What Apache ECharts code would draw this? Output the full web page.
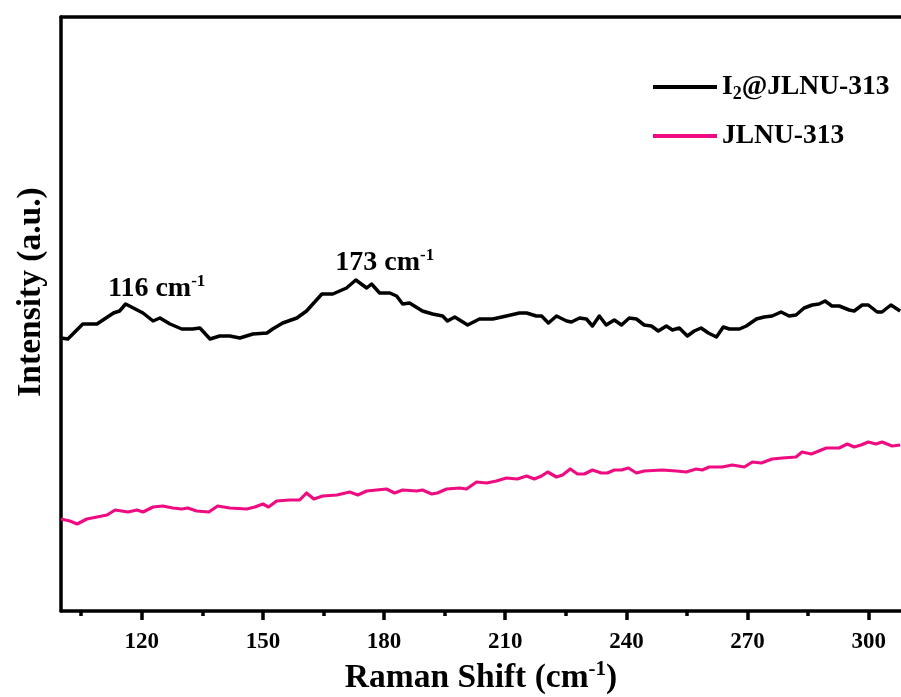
<!DOCTYPE html>
<html>
<head>
<meta charset="utf-8">
<title>Raman spectra</title>
<script src="https://cdn.jsdelivr.net/npm/echarts@6/dist/echarts.min.js"></script>
<style>
  html, body { margin: 0; padding: 0; background: #ffffff; }
  #chart { width: 901px; height: 697px; }
</style>
</head>
<body>
<div id="chart"></div>
<script>
// Raman shift (cm-1) and intensity (a.u.) of iodine-loaded JLNU-313
const shiftLoaded = [100, 101.7, 105.4, 108.9, 113, 114.5, 116, 120.3, 122.8, 124.5, 127.0, 129.9, 132.6, 134.4,
  136.9, 139.3, 141.8, 144.3, 147.5, 151.0, 152.4, 154.9, 158.4, 160.8, 164.6, 167.3, 170.7, 173, 175.7, 176.9,
  178.9, 181.4, 183.1, 184.6, 186.3, 189.5, 192.0, 194.5, 195.7, 197.5, 200.7, 203.6, 206.9, 210.3, 213.5, 215.3,
  217.7, 219.0, 220.7, 222.7, 225.2, 226.4, 228.4, 230.1, 231.6, 233.3, 235.0, 237.0, 238.8, 240.7, 242.5, 244.4,
  246.2, 247.9, 249.9, 251.4, 253.1, 255.1, 256.8, 258.5, 260.3, 262.3, 264.0, 265.5, 268.0, 269.7, 272.2, 274.1,
  276.1, 278.3, 280.3, 282.0, 284.0, 286.0, 287.7, 289.2, 290.9, 292.7, 295.2, 296.4, 298.4, 299.9, 302.1, 303.3,
  305.5, 307.8];
const intensityLoaded = [273, 272, 287, 287, 298, 300, 307, 298, 290, 293, 287, 282, 282, 283,
  272, 275, 275, 273, 277, 278, 282, 288, 293, 300, 317, 317, 323, 331, 323, 327,
  318, 318, 315, 307, 308, 300, 297, 295, 290, 294, 286, 292, 292, 295, 298, 298,
  295, 295, 288, 295, 290, 289, 293, 292, 285, 295, 286, 291, 286, 293, 292, 286,
  285, 280, 285, 281, 283, 275, 280, 283, 278, 274, 284, 282, 282, 285, 292, 294,
  295, 299, 295, 296, 303, 306, 307, 310, 305, 305, 301, 300, 306, 306, 299, 299,
  306, 300];

// Raman shift (cm-1) and intensity (a.u.) of pristine JLNU-313
const shiftPristine = [100, 102.2, 104.0, 106.4, 108.9, 111.4, 113.4, 116.6, 118.8, 120.3, 122.8, 125.2, 127.7,
  129.9, 131.4, 133.6, 136.6, 138.8, 141.8, 146.0, 148.0, 150.0, 151.4, 153.4, 156.6, 159.1, 160.8, 162.6, 164.8,
  168.3, 171.5, 173.5, 175.7, 180.6, 182.6, 184.6, 188.1, 189.5, 191.8, 193.2, 195.5, 198.7, 200.4, 202.9, 205.4,
  207.8, 210.3, 213.0, 215.3, 217.2, 219.0, 220.5, 222.7, 224.2, 226.1, 227.9, 229.6, 231.6, 233.8, 235.3, 237.0,
  238.8, 240.5, 242.5, 244.4, 248.9, 252.4, 254.8, 257.3, 258.8, 260.5, 263.7, 266.2, 269.2, 271.2, 273.4, 276.1,
  278.6, 282.0, 283.5, 285.8, 289.5, 292.7, 294.7, 296.4, 298.1, 299.9, 301.8, 303.3, 305.8, 307.8];
const intensityPristine = [92, 90, 87, 92, 94, 96, 101, 99, 101, 99, 104, 105, 103,
  102, 103, 100, 99, 105, 103, 102, 104, 107, 104, 110, 111, 111, 118, 112, 115,
  116, 119, 116, 120, 122, 118, 121, 120, 121, 117, 118, 122, 123, 122, 129, 128,
  130, 133, 132, 135, 132, 135, 139, 134, 136, 142, 137, 137, 141, 138, 138, 141,
  141, 143, 138, 140, 141, 140, 139, 142, 141, 144, 144, 146, 144, 149, 148, 152,
  153, 154, 159, 157, 163, 163, 167, 164, 166, 169, 167, 169, 165, 166];

// Labelled peak positions (cm-1)
const peakShifts = [116, 173];

// Axis ticks
const majorTicks = [120, 150, 180, 210, 240, 270, 300];
const minorTicks = [105, 135, 165, 195, 225, 255, 285];

const seriesNames = ['I2@JLNU-313', 'JLNU-313'];

const FONT = "'Liberation Serif', 'Times New Roman', serif";

function pairs(xs, ys) {
  return xs.map((x, i) => [x, ys[i]]);
}

const loadedData = pairs(shiftLoaded, intensityLoaded);
const peakMarks = peakShifts.map((s, i) => {
  const v = intensityLoaded[shiftLoaded.indexOf(s)];
  const offsets = [[31, -15], [29, -17]];
  return {
    coord: [s, v],
    label: { offset: offsets[i], formatter: '{n|' + s + ' cm}{sup|-1}' }
  };
});

const chart = echarts.init(document.getElementById('chart'), null, { renderer: 'canvas' });

const axisLineStyle = { color: '#000', width: 3.5 };

chart.setOption({
  backgroundColor: '#ffffff',
  animation: false,
  grid: { left: 61, right: 0, top: 17, bottom: 86, containLabel: false, outerBoundsMode: 'none' },
  legend: {
    orient: 'vertical',
    left: 648,
    top: 68,
    itemWidth: 64,
    itemHeight: 4,
    itemGap: 19,
    icon: 'rect',
    data: seriesNames,
    formatter: function (name) {
      if (name === seriesNames[0]) {
        return '{n|I}{sub|2}{n|@JLNU-313}';
      }
      return '{n|' + name + '}';
    },
    textStyle: {
      rich: {
        n: { fontFamily: FONT, fontWeight: 'bold', fontSize: 27.5, color: '#000', lineHeight: 32 },
        sub: { fontFamily: FONT, fontWeight: 'bold', fontSize: 18, color: '#000', lineHeight: 32, verticalAlign: 'bottom' }
      }
    }
  },
  xAxis: [
    {
      type: 'value',
      min: 100,
      max: 308,
      position: 'bottom',
      name: '{t|Raman Shift (cm}{sup|-1}{t|)}',
      nameLocation: 'middle',
      nameGap: 47,
      nameTextStyle: {
        rich: {
          t: { fontFamily: FONT, fontWeight: 'bold', fontSize: 33.5, color: '#000', lineHeight: 38 },
          sup: { fontFamily: FONT, fontWeight: 'bold', fontSize: 21, color: '#000', lineHeight: 38, verticalAlign: 'top' }
        }
      },
      axisLine: { show: true, onZero: false, lineStyle: axisLineStyle },
      axisTick: { show: true, inside: false, length: 9, lineStyle: { color: '#000', width: 3.5 }, customValues: majorTicks },
      axisLabel: {
        show: true, margin: 20, customValues: majorTicks,
        fontFamily: FONT, fontWeight: 'bold', fontSize: 23, color: '#000'
      },
      splitLine: { show: false }
    },
    {
      // short minor ticks between the labelled ones
      type: 'value',
      min: 100,
      max: 308,
      position: 'bottom',
      axisLine: { show: false },
      axisTick: { show: true, inside: false, length: 5, lineStyle: { color: '#000', width: 3.5 }, customValues: minorTicks },
      axisLabel: { show: false },
      splitLine: { show: false }
    },
    {
      // frame line along the top edge
      type: 'value',
      min: 100,
      max: 308,
      position: 'top',
      axisLine: { show: true, onZero: false, lineStyle: axisLineStyle },
      axisTick: { show: false },
      axisLabel: { show: false },
      splitLine: { show: false }
    }
  ],
  yAxis: {
    type: 'value',
    min: 0,
    max: 594,
    axisLine: { show: true, onZero: false, lineStyle: axisLineStyle },
    axisTick: { show: false },
    axisLabel: { show: false },
    splitLine: { show: false }
  },
  graphic: [
    {
      type: 'text',
      x: 31,
      y: 292,
      rotation: Math.PI / 2,
      style: {
        text: 'Intensity (a.u.)',
        font: 'bold 33.5px ' + FONT,
        fill: '#000',
        align: 'center',
        verticalAlign: 'middle'
      },
      silent: true
    }
  ],
  series: [
    {
      name: seriesNames[0],
      type: 'line',
      data: loadedData,
      showSymbol: false,
      symbol: 'none',
      color: '#000000',
      lineStyle: { color: '#000000', width: 3.5, join: 'round' },
      markPoint: {
        silent: true,
        symbol: 'circle',
        symbolSize: 1,
        itemStyle: { color: 'rgba(0,0,0,0)' },
        label: {
          show: true,
          position: 'inside',
          rich: {
            n: { fontFamily: FONT, fontWeight: 'bold', fontSize: 28, color: '#000', lineHeight: 32 },
            sup: { fontFamily: FONT, fontWeight: 'bold', fontSize: 17, color: '#000', lineHeight: 32, verticalAlign: 'top' }
          }
        },
        data: peakMarks
      }
    },
    {
      name: seriesNames[1],
      type: 'line',
      data: pairs(shiftPristine, intensityPristine),
      showSymbol: false,
      symbol: 'none',
      color: '#ee0c80',
      lineStyle: { color: '#ee0c80', width: 3.2, join: 'round' }
    }
  ]
});
</script>
</body>
</html>
